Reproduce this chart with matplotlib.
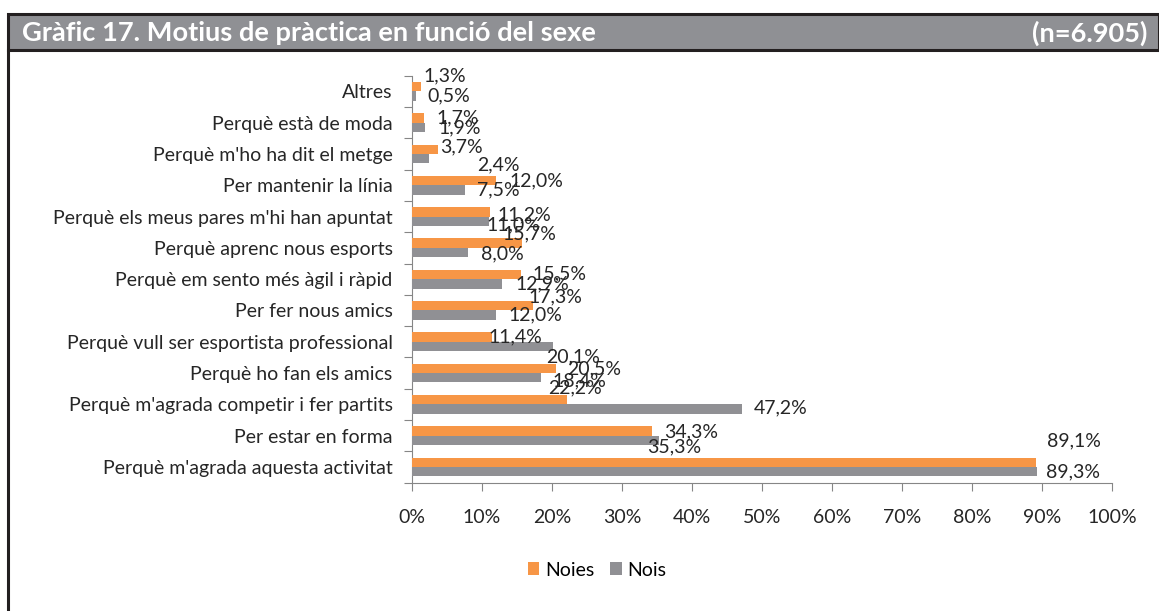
import numpy as np
import matplotlib
matplotlib.use('Agg')
import matplotlib.pyplot as plt
from matplotlib.patches import Rectangle
from matplotlib.lines import Line2D

plt.rcParams['font.family'] = ['Lato', 'DejaVu Sans']

# data (top to bottom)
categories = [
  "Altres",
  "Perquè està de moda",
  "Perquè m'ho ha dit el metge",
  "Per mantenir la línia",
  "Perquè els meus pares m'hi han apuntat",
  "Perquè aprenc nous esports",
  "Perquè em sento més àgil i ràpid",
  "Per fer nous amics",
  "Perquè vull ser esportista professional",
  "Perquè ho fan els amics",
  "Perquè m'agrada competir i fer partits",
  "Per estar en forma",
  "Perquè m'agrada aquesta activitat",
]
noies = [1.3, 1.7, 3.7, 12.0, 11.2, 15.7, 15.5, 17.3, 11.4, 20.5, 22.2, 34.3, 89.1]
nois = [0.5, 1.9, 2.4, 7.5, 11.0, 8.0, 12.9, 12.0, 20.1, 18.4, 47.2, 35.3, 89.3]
series_names = ['Noies', 'Nois']
xticks = [0, 10, 20, 30, 40, 50, 60, 70, 80, 90, 100]

# label offsets in pixels (dx right, dy down) -- mimics the original placement
noies_off = [(2, -11), (13, 0), (2, -2), (13, 0), (7, 3), (-19, -9), (12, -1),
             (-5, -9), (-3, 0), (12, 1), (-19, -12), (12, 1), (11, -21)]
nois_off = [(12, 0), (13, 1), (48, 6), (13, 0), (-3, 4), (13, 1), (13, 0),
            (12, 0), (-7, 10), (12, 3), (11, -1), (-12, 7), (9, 0)]

ORANGE = '#F79646'
GREY = '#909094'
TXT = '#262626'
FS = 14
W, H = 1159, 611

fig = plt.figure(figsize=(W / 100, H / 100), dpi=100)

# frame: title bar + left border
fig.patches.append(Rectangle((8 / W, 1 - 50 / H), 1 - 8 / W, 36 / H, transform=fig.transFigure,
                             facecolor='#8F9094', edgecolor='#231F20', linewidth=2.2))
fig.lines.append(Line2D([8 / W, 8 / W], [0, 1 - 50 / H], transform=fig.transFigure,
                        color='#231F20', linewidth=2.2))
fig.text(22 / W, 1 - 33 / H, 'Gràfic 17. Motius de pràctica en funció del sexe',
         color='white', fontsize=19.6, fontweight='bold', va='center', ha='left')
fig.text(1147 / W, 1 - 33 / H, '(n=6.905)',
         color='white', fontsize=19.6, fontweight='bold', va='center', ha='right')

ax = fig.add_axes([412 / W, 1 - 482.6 / H, 700 / W, (482.6 - 75.7) / H])

y = np.arange(len(categories))
bh = 0.3
ax.barh(y - bh / 2, noies, height=bh, color=ORANGE, label=series_names[0], zorder=3)
ax.barh(y + bh / 2, nois, height=bh, color=GREY, label=series_names[1], zorder=3)

for i in range(len(categories)):
  for vals, offs, yy in ((noies, noies_off, y[i] - bh / 2), (nois, nois_off, y[i] + bh / 2)):
    v = vals[i]
    dx, dy = offs[i]
    ax.annotate(('%.1f%%' % v).replace('.', ','), xy=(v, yy), xytext=(dx, -dy),
                textcoords='offset pixels', ha='left', va='center',
                fontsize=FS, color=TXT, zorder=4)

ax.set_xlim(0, 100)
ax.set_ylim(len(categories) - 0.5, -0.5)
ax.set_xticks(xticks)
ax.set_xticklabels(['%d%%' % t for t in xticks], fontsize=FS, color=TXT)
ax.set_yticks(np.arange(-0.5, len(categories), 1.0))
ax.set_yticklabels([])
ax.set_yticks(y, minor=True)
ax.set_yticklabels(categories, minor=True, fontsize=FS, color=TXT)
ax.tick_params(axis='y', which='minor', length=0, pad=14)
ax.tick_params(axis='y', which='major', length=6, direction='out', color='#868686')
ax.tick_params(axis='x', length=6, direction='out', color='#868686', pad=13)

for s in ('top', 'right'):
  ax.spines[s].set_visible(False)
for s in ('left', 'bottom'):
  ax.spines[s].set_color('#868686')

handles, labels = ax.get_legend_handles_labels()
leg = fig.legend(handles, labels, loc='center', bbox_to_anchor=(597 / W, 1 - 570 / H), ncol=2,
                 frameon=False, fontsize=FS, handlelength=0.6, handleheight=0.6,
                 handletextpad=0.3, columnspacing=0.8)

fig.savefig('out.png', dpi=100)
